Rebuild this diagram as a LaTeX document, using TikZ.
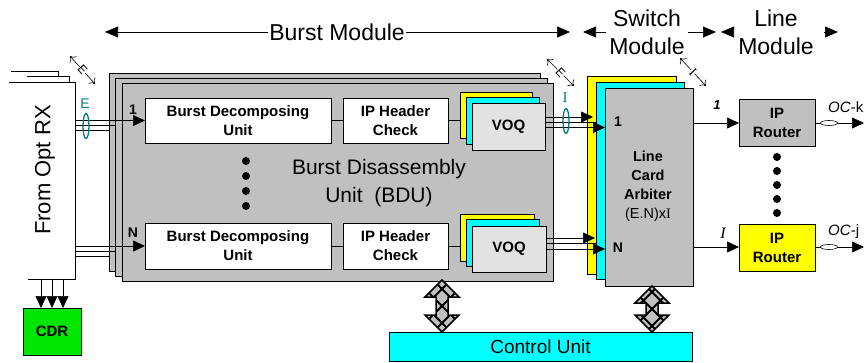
\documentclass[tikz,border=0pt]{standalone}
\usepackage{fontspec}
\setmainfont{Liberation Sans}
\newfontfamily\serifI{Liberation Serif}
\usetikzlibrary{arrows.meta,calc,shapes.geometric}
\definecolor{bgray}{RGB}{192,192,192}
\definecolor{lgray}{RGB}{226,226,226}
\definecolor{cdrgreen}{RGB}{0,230,0}
\definecolor{tealc}{RGB}{0,128,128}
\definecolor{yel}{RGB}{255,255,0}
\definecolor{cyn}{RGB}{0,255,255}
\newcommand\dblarr[3]{%
  \def\dpath{(#1,#2) -- ++(17,17) -- ++(-11,0) -- ({#1+6},{#3-17}) -- ++(11,0) -- (#1,#3) -- ++(-17,-17) -- ++(11,0) -- ({#1-6},{#2+17}) -- ++(-11,0) -- cycle}%
  \begin{scope}
    \clip \dpath;
    \fill[bgray] ({#1-20},#2) rectangle ({#1+20},#3);
    \foreach \k in {-102,-85,...,102} {
      \draw[line width=2pt] ({#1-40},{(#2+#3)/2+\k-40}) -- ({#1+40},{(#2+#3)/2+\k+40});
      \draw[line width=2pt] ({#1-40},{(#2+#3)/2+\k+40}) -- ({#1+40},{(#2+#3)/2+\k-40});
    }
  \end{scope}
  \draw[line width=1.5pt,line join=miter] \dpath;
}
\begin{document}
\begin{tikzpicture}[x=1pt,y=-1pt,
  sheet/.style={draw=black,line width=0.8pt,inner sep=0,outer sep=0},
  wbox/.style={sheet,fill=white,align=center,font=\fontsize{15}{19}\selectfont\bfseries},
  arr/.style={line width=0.7pt,-{Triangle[length=12pt,width=11pt]}},
  harr/.style={line width=0.7pt,-{Triangle[length=13pt,width=11pt]}},
  thin/.style={line width=0.7pt},
  big/.style={font=\fontsize{23}{28}\selectfont,inner sep=1pt,align=center},
  small/.style={font=\fontsize{14}{17}\selectfont\bfseries,inner sep=0},
  dot/.style={circle,fill=black,inner sep=0,minimum size=8pt},
  tealell/.style={ellipse,draw=tealc,line width=1.3pt,inner sep=0,minimum width=6pt,minimum height=25pt},
  dimmark/.style={line width=0.6pt,{To[length=5pt,width=9pt]}-{To[length=5pt,width=9pt]}},
]
\useasboundingbox (0,0) rectangle (864,363);

% ---------- top module labels ----------
\node[big] (bm) at (337,32) {Burst Module};
\coordinate (bmL) at (105,32);
\coordinate (bmR) at (570,32);
\draw[harr] (bm.west) -- (bmL);
\draw[harr] (bm.east) -- (bmR);
\node[big] (sm) at (647,32) {Switch\\Module};
\coordinate (smL1) at (606,32); \coordinate (smL) at (583,32);
\coordinate (smR1) at (688,32); \coordinate (smR) at (716,32);
\draw[harr] (smL1) -- (smL);
\draw[harr] (smR1) -- (smR);
\node[big] (lm) at (776,32) {Line\\Module};
\coordinate (lmL1) at (732,32); \coordinate (lmL) at (721,32);
\coordinate (lmR1) at (824,32); \coordinate (lmR) at (838,32);
\draw[harr] (lmL1) -- (lmL);
\draw[harr] (lmR1) -- (lmR);

% ---------- From Opt RX ----------
\draw[thin] (11,71) -- (58,71) -- (58,76);
\draw[thin] (27,76) -- (69,76) -- (69,83);
\node[fill=white,inner sep=0,minimum width=66pt,minimum height=196pt] (rx) at (42,181) {};
\draw[thin] (rx.north west) -- (rx.north east) -- (rx.south east) -- ($(rx.south west)+(19,0)$);
\node[rotate=90,font=\fontsize{22}{26}\selectfont] (rxt) at (45,170) {From Opt RX};

% CDR
\node[sheet,fill=cdrgreen,minimum width=58pt,minimum height=47pt,font=\fontsize{15}{18}\selectfont\bfseries] (cdr) at (52,331.5) {CDR};
\foreach \xx in {41,52,63} {
  \draw[arr] (\xx,0 |- rx.south) -- (\xx,0 |- cdr.north);
}

% ---------- Burst Disassembly Unit ----------
\node[sheet,fill=bgray,minimum width=431pt,minimum height=198pt] (bduA) at (324.5,172) {};
\node[sheet,fill=bgray,minimum width=432pt,minimum height=198pt] (bduB) at (331,177) {};
\node[sheet,fill=bgray,minimum width=431pt,minimum height=198pt] (bduC) at (337.5,182) {};
\node[font=\fontsize{21}{28}\selectfont,align=center,inner sep=0] (bdut) at (379,183) {Burst Disassembly\\Unit\ \ (BDU)};

\node[wbox,minimum width=186pt,minimum height=45pt] (bdu1) at (238,120.5) {Burst Decomposing\\Unit};
\node[wbox,minimum width=186pt,minimum height=46pt] (bdu2) at (238,246) {Burst Decomposing\\Unit};
\node[wbox,minimum width=105pt,minimum height=45pt] (iph1) at (395.5,120.5) {IP Header\\Check};
\node[wbox,minimum width=105pt,minimum height=46pt] (iph2) at (395.5,246) {IP Header\\Check};

% VOQ stacks
\node[sheet,fill=yel,minimum width=72pt,minimum height=46pt] (v1a) at (496,115) {};
\node[sheet,fill=cyn,minimum width=73pt,minimum height=47pt] (v1b) at (502.5,120.5) {};
\node[sheet,fill=lgray,minimum width=73pt,minimum height=47pt,font=\fontsize{15}{18}\selectfont\bfseries] (v1c) at (508.5,126.5) {VOQ};
\node[sheet,fill=yel,minimum width=74pt,minimum height=47pt] (v2a) at (497,237.5) {};
\node[sheet,fill=cyn,minimum width=73pt,minimum height=47pt] (v2b) at (502.5,242.5) {};
\node[sheet,fill=lgray,minimum width=74pt,minimum height=46pt,font=\fontsize{15}{18}\selectfont\bfseries] (v2c) at (509,249) {VOQ};

\draw[thin] (bdu1.east) -- (iph1.west);
\draw[thin] (iph1.east) -- (iph1.east -| v1a.west);
\draw[thin] (bdu2.east) -- (iph2.west);
\draw[thin] (iph2.east) -- (iph2.east -| v2a.west);

% dots in BDU
\foreach \yy in {161,176,191,206} { \node[dot] (bd\yy) at (246,\yy) {}; }

% inputs into BDU
\draw[arr] (rx.east |- bdu1.west) -- (bdu1.west);
\draw[thin] (rx.east |- 0,125.5) -- (bduB.west |- 0,125.5);
\draw[thin] (rx.east |- 0,130) -- (bduA.west |- 0,130);
\draw[arr] (rx.east |- bdu2.west) -- (bdu2.west);
\draw[thin] (rx.east |- 0,251) -- (bduB.west |- 0,251);
\draw[thin] (rx.east |- 0,256) -- (bduA.west |- 0,256);
\node[small] (in1) at (133,110) {1};
\node[small] (inN) at (133,233) {N};

% E marker at input
\node[font=\fontsize{14}{15}\selectfont,text=tealc,inner sep=0] (eT) at (85,104) {E};
\node[tealell] (eEl) at (86,126) {};
\coordinate (em1a) at (70,56); \coordinate (em1b) at (95,84);
\draw[dimmark] (em1a) -- (em1b);
\node[fill=white,inner sep=0.3pt,rotate=-48,font=\fontsize{12}{12}\selectfont] (em1) at ($(em1a)!0.5!(em1b)$) {E};

% ---------- Line card arbiter ----------
\node[sheet,fill=yel,minimum width=89pt,minimum height=198pt] (lcA) at (631.5,175) {};
\node[sheet,fill=cyn,minimum width=88pt,minimum height=197pt] (lcB) at (640,180.5) {};
\node[sheet,fill=bgray,minimum width=88pt,minimum height=198pt] (lcC) at (649,187) {};
\node[font=\fontsize{14.5}{19}\selectfont\bfseries,align=center,inner sep=0] (lct) at (648,186) {Line\\Card\\Arbiter\\{\mdseries (E.N)x{\serifI I}}};
\node[small] (lc1) at (618,122) {1};
\node[small] (lcN) at (618,248) {N};

% VOQ -> arbiter
\draw[arr] (v1c.east |- 0,117) -- (593,117);
\draw[thin] (v1c.east |- 0,122) -- (lcB.west |- 0,122);
\draw[arr] (v1c.east |- 0,127.5) -- (lcC.west |- 0,127.5);
\draw[arr] (v2c.east |- 0,238) -- (595,238);
\draw[thin] (v2c.east |- 0,243.5) -- (lcB.west |- 0,243.5);
\draw[arr] (v2c.east |- 0,249) -- (lcC.west |- 0,249);

% I marker
\node[font=\fontsize{15}{15}\selectfont,text=tealc,inner sep=0] (iT) at (565,98) {\serifI I};
\node[tealell] (iEl) at (566,121) {};
\coordinate (em2a) at (547,59); \coordinate (em2b) at (574,86);
\draw[dimmark] (em2a) -- (em2b);
\node[fill=white,inner sep=0.3pt,rotate=-48,font=\fontsize{12}{12}\selectfont] (em2) at ($(em2a)!0.5!(em2b)$) {E};
\coordinate (em3a) at (680,58); \coordinate (em3b) at (706,86);
\draw[dimmark] (em3a) -- (em3b);
\node[fill=white,inner sep=0.3pt,rotate=-47,font=\fontsize{13}{13}\selectfont\serifI] (em3) at ($(em3a)!0.5!(em3b)$) {I};

% ---------- Line module ----------
\node[wbox,fill=bgray,minimum width=76pt,minimum height=47pt] (ipr1) at (777,122.5) {IP\\Router};
\node[wbox,fill=yel,minimum width=76pt,minimum height=47pt] (ipr2) at (777,247.5) {IP\\Router};
\draw[arr] (lcC.east |- 0,123) -- (ipr1.west |- 0,123);
\draw[arr] (lcC.east |- 0,247) -- (ipr2.west |- 0,247);
\node[font=\fontsize{13}{15}\selectfont\bfseries\itshape,inner sep=0] (o1) at (717,105) {1};
\node[font=\fontsize{16}{17}\selectfont\itshape\serifI,inner sep=0] (oI) at (723,233) {I};
\foreach \yy in {157,171,185,199,213} { \node[dot] (rd\yy) at (777,\yy) {}; }

\coordinate (out1) at (864,123);
\coordinate (out2) at (864,247);
\draw[arr] (ipr1.east |- out1) -- (out1);
\draw[arr] (ipr2.east |- out2) -- (out2);
\node[ellipse,draw,fill=white,line width=0.6pt,inner sep=0,minimum width=17pt,minimum height=5pt] (oe1) at (829,123) {};
\node[ellipse,draw,fill=white,line width=0.6pt,inner sep=0,minimum width=17pt,minimum height=5pt] (oe2) at (829,247) {};
\node[font=\fontsize{15}{17}\selectfont,anchor=west,inner sep=0] (ock) at (828,107) {\textit{OC}-k};
\node[font=\fontsize{15}{17}\selectfont,anchor=west,inner sep=0] (ocj) at (828,232) {\textit{OC}-j};

% ---------- Control unit ----------
\node[sheet,fill=cyn,minimum width=303pt,minimum height=29pt,font=\fontsize{19}{22}\selectfont] (cu) at (540.5,346.5) {Control Unit};
\dblarr{442}{280}{332}
\dblarr{652}{286}{332}
\end{tikzpicture}
\end{document}
